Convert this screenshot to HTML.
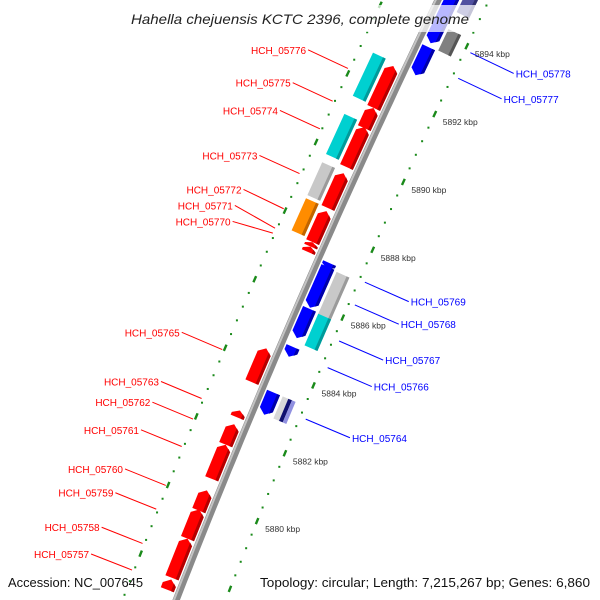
<!DOCTYPE html>
<html><head><meta charset="utf-8"><style>
html,body{margin:0;padding:0;background:#fff;overflow:hidden;}
svg{display:block;font-family:"Liberation Sans",sans-serif;overflow:hidden;}
</style></head><body>
<svg id="chart" width="600" height="600" viewBox="0 0 600 600" xmlns="http://www.w3.org/2000/svg">
<defs><clipPath id="clipAll"><rect x="0" y="0" width="600" height="600"/></clipPath></defs>
<g clip-path="url(#clipAll)">
<g id="dots"></g>
<g id="backbone"></g>
<g id="feats"></g>
<g id="labels"></g>
<g id="ticks"></g>
</g>
<rect x="124" y="5" width="352" height="27" fill="#fff" opacity="0.72"/>
<text x="300" y="24" text-anchor="middle" font-style="italic" font-size="14" fill="#222" textLength="338" lengthAdjust="spacingAndGlyphs">Hahella chejuensis KCTC 2396, complete genome</text>
<text x="8" y="587" font-size="13" fill="#111" textLength="135" lengthAdjust="spacingAndGlyphs">Accession: NC_007645</text>
<text x="590" y="587" text-anchor="end" font-size="13" fill="#111" textLength="330" lengthAdjust="spacingAndGlyphs">Topology: circular; Length: 7,215,267 bp; Genes: 6,860</text>
</svg>
<script>
// feature data (kbp)
var featStart=[5891.52,5891.46,5890.87,5889.82,5889.73,5888.62,5888.53,5887.59,5887.53,5887.40,5887.24,5887.03,5885.89,5885.80,5885.00,5884.90,5884.45,5883.43,5882.75,5882.75,5882.40,5881.60,5880.60,5879.67,5878.85,5877.70,5877.35,5892.72,5893.57,5893.66,5894.70];
var featEnd=[5892.78,5892.69,5891.46,5890.99,5890.90,5889.58,5889.55,5888.53,5888.44,5887.53,5887.40,5887.20,5887.09,5887.06,5885.86,5885.83,5884.74,5884.42,5883.40,5883.40,5882.60,5882.20,5881.60,5880.26,5879.70,5878.85,5877.65,5893.54,5894.20,5895.40,5895.40];
var featTrack=['L2','F','F','L2','F','L2','F','L2','F','F','F','R','R','R2','R','R2','R','F','R','R2S','F','F','F','F','F','F','F','R','R2','R','R2'];
var featColor=['cyan','red','red','cyan','red','gray','red','orange','red','red','red','blue','blue','gray','blue','cyan','blue','red','blue','stripe','red','red','red','red','red','red','red','blue','dgray','blue','navy'];
// labels
var labelNames=['HCH_05776','HCH_05775','HCH_05774','HCH_05773','HCH_05772','HCH_05771','HCH_05770','HCH_05765','HCH_05763','HCH_05762','HCH_05761','HCH_05760','HCH_05759','HCH_05758','HCH_05757','HCH_05778','HCH_05777','HCH_05769','HCH_05768','HCH_05767','HCH_05766','HCH_05764'];
var labelStart=[5891.46,5890.87,5889.73,5888.53,5887.53,5887.40,5887.24,5883.43,5882.40,5881.60,5880.60,5879.67,5878.85,5877.70,5877.35,5893.57,5892.72,5887.03,5885.80,5884.90,5884.45,5882.75];
var labelEnd=[5892.78,5891.46,5890.99,5889.58,5888.53,5887.53,5887.40,5884.42,5882.60,5882.20,5881.60,5880.26,5879.70,5878.85,5877.65,5894.20,5893.54,5887.20,5887.09,5885.86,5884.74,5883.40];
var labelStrand=['+','+','+','+','+','+','+','+','+','+','+','+','+','+','+','-','-','-','-','-','-','-'];
// scale ticks
var tickKbp=[5880,5882,5884,5886,5888,5890,5892,5894];

var NS='http://www.w3.org/2000/svg';
function bx(y){return 438-0.482*y+7.6e-5*y*y;}
function nrm(y){var s=-0.482+1.52e-4*y;var L=Math.sqrt(s*s+1);return [1/L,-s/L];}
function yb(k){return 231-34.1*(k-5888);}
function pt(k,d){var y=yb(k),n=nrm(y);return [bx(y)+d*n[0],y+d*n[1]];}
function P(a){return a.map(function(p){return p[0].toFixed(1)+','+p[1].toFixed(1);}).join(' ');}
function mk(tag,attrs,parent){var e=document.createElementNS(NS,tag);for(var a in attrs)e.setAttribute(a,attrs[a]);parent.appendChild(e);return e;}

// dotted lines
var gD=document.getElementById('dots');
[-50,46].forEach(function(d){
  for(var i=0;i<=50;i++){
    var k=5876.0+i*0.4;
    var c=pt(k,d);
    if(c[1]<-5||c[1]>598)continue;
    var kr=Math.round(k);
    if(Math.abs(k-kr)<1e-6 && kr%2===0){
      var a=pt(k-0.09,d),b=pt(k+0.09,d);
      var ln=mk('line',{x1:a[0],y1:a[1],x2:b[0],y2:b[1],stroke:'#1a8a1a','stroke-width':2.4},gD);
      
      
    } else {
      var r=mk('rect',{x:c[0]-1,y:c[1]-1,width:2,height:2,fill:'#1a8a1a'},gD);
      
      
    }
  }
});

// backbone
var gB=document.getElementById('backbone');
function bbLine(d){var pts=[];for(var y=-10;y<=610;y+=10){var n=nrm(y);pts.push([bx(y)+d*n[0],y+d*n[1]]);}return P(pts);}
var b1=mk('polyline',{points:bbLine(0),fill:'none',stroke:'#8a8a8a','stroke-width':7},gB);


var b2=mk('polyline',{points:bbLine(-2),fill:'none',stroke:'#c4c4c4','stroke-width':2},gB);



var colors={red:['#ff0000','#b40000'],cyan:['#00d0d0','#009a9a'],gray:['#c8c8c8','#9a9a9a'],orange:['#ff8c00','#c06400'],blue:['#0000ff','#0000a8'],dgray:['#808080','#555555'],navy:['#5050a0','#303070']};
var tracks={F:[-19,-5],L2:[-36,-22],R:[5,19],R2:[22,36],R2S:[22,36]};
var gF=document.getElementById('feats');
var hk=5/34.1;
for(var i=0;i<featStart.length;i++){
  var k1=featStart[i],k2=featEnd[i],tr=featTrack[i],t=tracks[tr],d1=t[0],d2=t[1],dm=(d1+d2)/2;
  var h=Math.min(hk,(k2-k1)*0.6),poly,strip;
  if(tr==='F'){
    poly=[pt(k1,d1),pt(k2-h,d1),pt(k2,dm),pt(k2-h,d2),pt(k1,d2)];
    strip=[pt(k1,d2-3),pt(k2-h*0.5,d2-3),pt(k2-h,d2),pt(k1,d2)];
  } else if(tr==='R'){
    poly=[pt(k2,d1),pt(k1+h,d1),pt(k1,dm),pt(k1+h,d2),pt(k2,d2)];
    strip=[pt(k2,d2-3),pt(k1+h*0.5,d2-3),pt(k1+h,d2),pt(k2,d2)];
  } else {
    poly=[pt(k1,d1),pt(k2,d1),pt(k2,d2),pt(k1,d2)];
    strip=[pt(k1,d2-3),pt(k2,d2-3),pt(k2,d2),pt(k1,d2)];
  }
  if(featColor[i]==='stripe'){
    var parts=[[22,28,'#d8d8d8'],[28,32,'#101070'],[32,36,'#9090e0']];
    parts.forEach(function(p){
      var s=mk('polygon',{points:P([pt(k1,p[0]),pt(k2,p[0]),pt(k2,p[1]),pt(k1,p[1])]),fill:p[2]},gF);
      
      
    });
    continue;
  }
  var c=colors[featColor[i]];
  var pg=mk('polygon',{points:P(poly),fill:c[0]},gF);
  
  
  var st=mk('polygon',{points:P(strip),fill:c[1]},gF);
  
  
}

// labels
var gL=document.getElementById('labels');
var items=[];
for(var j=0;j<labelNames.length;j++){
  var mid=(labelStart[j]+labelEnd[j])/2,fw=labelStrand[j]==='+';
  var s=pt(mid,fw?-52:52),e=pt(mid,fw?-96:100);
  items.push({name:labelNames[j],fw:fw,s:s,x:e[0],y:e[1]});
}
[true,false].forEach(function(side){
  var grp=items.filter(function(it){return it.fw===side;}).sort(function(a,b){return a.y-b.y;});
  for(var it=0;it<60;it++){
    for(var q=0;q<grp.length-1;q++){
      var gap=grp[q+1].y-grp[q].y;
      if(gap<16){var dd=(16-gap)/2;grp[q].y-=dd;grp[q+1].y+=dd;}
    }
  }
});
items.forEach(function(it){
  var col=it.fw?'#ff0000':'#0000ff';
  var ln=mk('line',{x1:it.s[0],y1:it.s[1],x2:it.x,y2:it.y,stroke:col,'stroke-width':1},gL);
  
  
  var tx=mk('text',{x:it.fw?it.x-2:it.x+2,y:it.y+4,'text-anchor':it.fw?'end':'start','font-size':10,fill:col},gL);
  tx.textContent=it.name;
  
  
});

// tick labels
var gT=document.getElementById('ticks');
tickKbp.forEach(function(k){
  var p=pt(k,46);
  var tx=mk('text',{x:p[0]+8,y:p[1]+11,'font-size':8.5,fill:'#333'},gT);
  tx.textContent=k+' kbp';
  
  
});
</script>
</body></html>
